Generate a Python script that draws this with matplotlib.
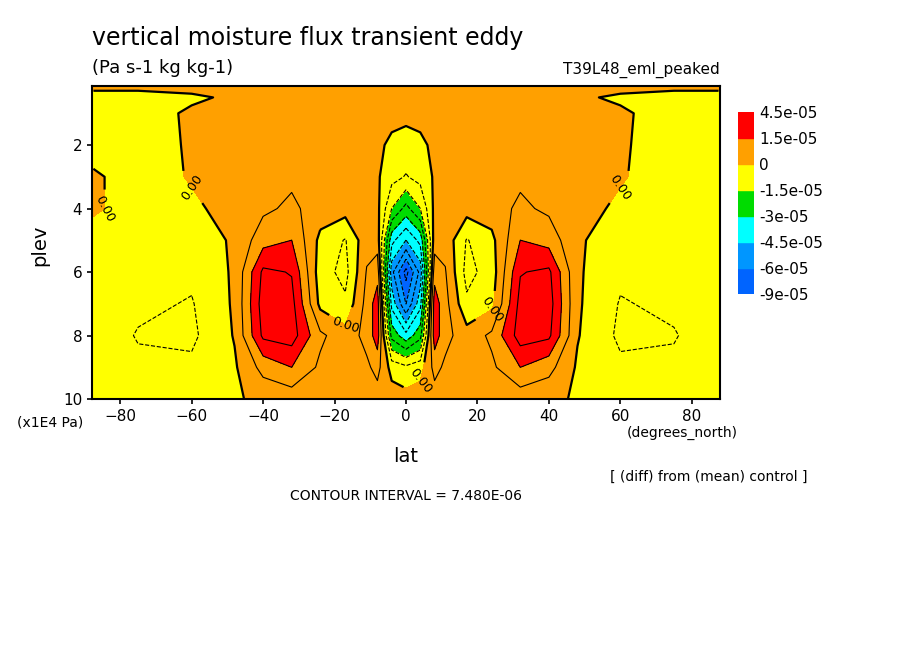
import numpy as np
import matplotlib
matplotlib.use("Agg")
import matplotlib.pyplot as plt

lats = [-87.5,-75,-60,-48,-40,-32,-24,-17,-11,-8,-4,0,4,8,11,17,24,32,40,48,60,75,87.5]
plevs = [0.15,0.5,1,2,3,4,5,6,7,8,9,10]
# values in units of 1e-5 Pa s-1 kg kg-1
v015 = [0.2,0.2,0.2,0.2,0.2,0.2,0.2,0.2,0.2,0.2,0.2,0.2,0.2,0.2,0.2,0.2,0.2,0.2,0.2,0.2,0.2,0.2,0.2]
v05 = [-0.3,-0.3,-0.1,0.1,0.1,0.05,0.1,0.3,0.4,0.4,0.4,0.4,0.4,0.4,0.4,0.3,0.1,0.05,0.1,0.1,-0.1,-0.3,-0.3]
v1 = [-0.3,-0.3,0.1,0.3,0.3,0.3,0.4,0.5,0.5,0.4,0.3,0.2,0.3,0.4,0.5,0.5,0.4,0.3,0.3,0.3,0.1,-0.3,-0.3]
v2 = [-0.3,-0.4,0.1,0.3,0.4,0.5,0.6,0.6,0.5,0.2,-0.2,-0.3,-0.2,0.2,0.5,0.6,0.6,0.5,0.4,0.3,0.1,-0.4,-0.3]
v3 = [0.1,-0.3,0.05,0.3,0.5,0.6,0.6,0.6,0.5,0.1,-0.5,-0.8,-0.5,0.1,0.5,0.6,0.6,0.6,0.5,0.3,0.05,-0.3,-0.3]
v4 = [0.1,-0.3,-0.1,0.2,0.6,0.9,0.4,0.3,0.6,0.2,-1.5,-2.5,-1.5,0.2,0.6,0.3,0.4,0.9,0.6,0.2,-0.1,-0.3,-0.3]
v5 = [-0.3,-0.4,-0.4,0.1,1.2,1.5,-0.2,-0.8,0.5,0.4,-3.5,-4.5,-3.5,0.4,0.5,-0.8,-0.2,1.5,1.2,0.1,-0.4,-0.4,-0.3]
v6 = [-0.3,-0.5,-0.6,0.1,2.4,2.2,-0.4,-1.0,0.8,1.2,-5,-7,-5,1.2,0.8,-1.0,-0.4,2.2,2.4,0.1,-0.6,-0.5,-0.3]
v7 = [-0.3,-0.6,-0.8,0.1,2.6,2.5,-0.2,-0.6,1.0,1.9,-4,-6,-4,1.9,1.0,-0.6,-0.2,2.5,2.6,0.1,-0.8,-0.6,-0.3]
v8 = [-0.3,-0.8,-0.9,0.05,2.4,2.6,0.9,0.3,1.0,1.9,-2.5,-3.5,-2.5,1.9,1.0,0.3,0.9,2.6,2.4,0.05,-0.9,-0.8,-0.3]
v9 = [-0.3,-0.6,-0.6,-0.1,1.0,1.5,0.6,0.3,0.6,1.0,-0.3,-0.6,-0.3,1.0,0.6,0.3,0.6,1.5,1.0,-0.1,-0.6,-0.6,-0.3]
v10 = [-0.2,-0.3,-0.3,-0.1,0.2,0.3,0.3,0.2,0.3,0.4,0.4,0.3,0.4,0.4,0.3,0.2,0.3,0.3,0.2,-0.1,-0.3,-0.3,-0.2]
rows = [v015,v05,v1,v2,v3,v4,v5,v6,v7,v8,v9,v10]

fill_levels = [-9e-5,-6e-5,-4.5e-5,-3e-5,-1.5e-5,0,1.5e-5,4.5e-5]
fill_labels = ["-9e-05","-6e-05","-4.5e-05","-3e-05","-1.5e-05","0","1.5e-05","4.5e-05"]
fill_colors = ["#0064ff","#0096ff","#00ffff","#00dc00","#ffff00","#ffa000","#ff0000"]
interval = 7.48e-6

Z = np.array(rows) * 1e-5
X, Y = np.meshgrid(lats, plevs)

fig = plt.figure(figsize=(9.04, 6.54), dpi=100)
ax = fig.add_axes([92/904, 1-399/654, 628/904, 313/654])
ax.contourf(X, Y, Z, levels=[-1]+fill_levels[1:]+[1], colors=fill_colors)
neg = [-interval*k for k in range(12, 0, -1)]
pos = [interval*k for k in range(1, 6)]
ax.contour(X, Y, Z, levels=neg, colors='k', linewidths=0.8, linestyles='--')
ax.contour(X, Y, Z, levels=pos, colors='k', linewidths=0.8, linestyles='-')
c0 = ax.contour(X, Y, Z, levels=[0], colors='k', linewidths=1.6)
ax.clabel(c0, fmt='%.2f', fontsize=9)
ax.set_xlim(-87.9, 87.9)
ax.set_ylim(10, 0.14)
ax.set_xticks([-80,-60,-40,-20,0,20,40,60,80])
ax.set_yticks([2,4,6,8,10])
ax.tick_params(labelsize=11, width=1.2)
for s in ax.spines.values():
    s.set_linewidth(1.5)

cax = fig.add_axes([738/904, 1-294/654, 16/904, 182/654])
n = len(fill_colors)
for i, c in enumerate(fill_colors):
    cax.add_patch(plt.Rectangle((0, i), 1, 1, color=c))
cax.set_xlim(0, 1); cax.set_ylim(0, n)
cax.set_xticks([])
cax.yaxis.tick_right()
cax.set_yticks(range(n+1))
cax.set_yticklabels(fill_labels, fontsize=11)
cax.tick_params(length=0)
for s in cax.spines.values():
    s.set_visible(False)

def t(x, y, s, **kw):
    fig.text(x/904, 1-y/654, s, **kw)
t(92, 38, "vertical moisture flux transient eddy", fontsize=17, va='center')
t(92, 68, "(Pa s-1 kg kg-1)", fontsize=13, va='center')
t(720, 70, "T39L48_eml_peaked", fontsize=11, va='center', ha='right')
t(17, 423, "(x1E4 Pa)", fontsize=10, va='center')
t(738, 433, "(degrees_north)", fontsize=10, va='center', ha='right')
t(406, 456, "lat", fontsize=14, va='center', ha='center')
t(40, 245, "plev", fontsize=14, va='center', ha='center', rotation=90)
t(808, 477, "[ (diff) from (mean) control ]", fontsize=10, va='center', ha='right')
t(406, 496, "CONTOUR INTERVAL = 7.480E-06", fontsize=10, va='center', ha='center')
fig.savefig("out.png", dpi=100)
